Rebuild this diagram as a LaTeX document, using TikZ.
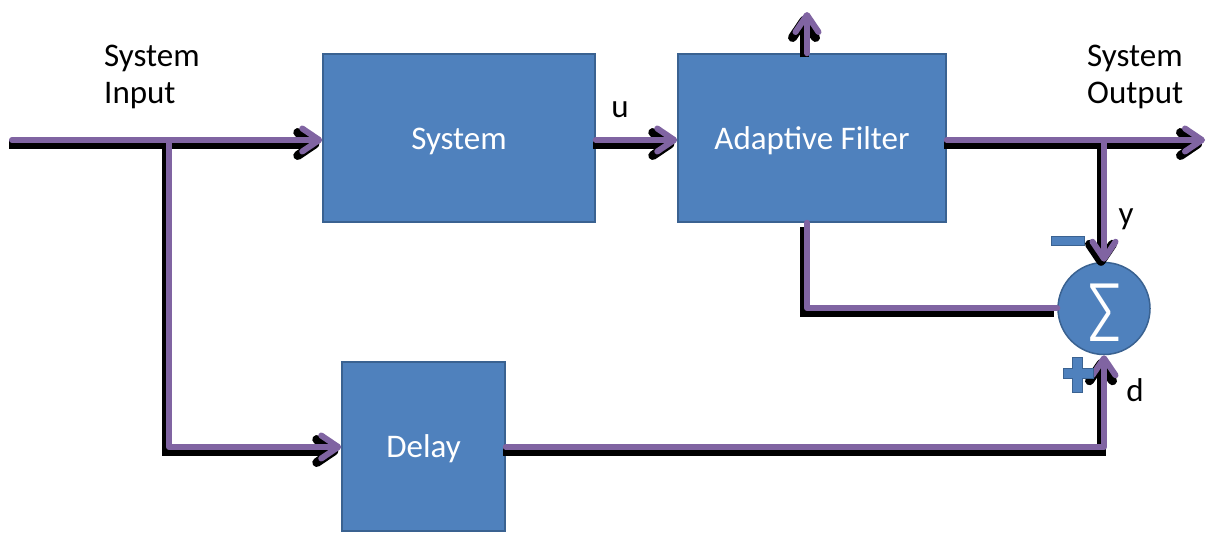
\documentclass[tikz,border=0pt]{standalone}
\usepackage{fontspec}
\setmainfont{Carlito}
\newfontfamily\sigmafont{Fira Sans Light}
\usetikzlibrary{arrows.meta}
\definecolor{boxblue}{HTML}{4F81BD}
\definecolor{boxedge}{HTML}{3A6291}
\definecolor{wire}{HTML}{8064A2}
\begin{document}
\begin{tikzpicture}[x=1pt,y=-1pt,
  blk/.style={draw=boxedge,line width=1.5pt,fill=boxblue,text=white,inner sep=0pt,
    text height=24pt,text depth=2pt,font=\fontsize{33}{40}\selectfont},
  sig/.style={draw=wire,line width=6pt,line cap=round,line join=round,
    preaction={draw=black,line width=9pt,transform canvas={shift={(-3pt,-4pt)}}}},
  arr/.style={-{Straight Barb[length=17pt,width=23pt,round]}},
  lbl/.style={font=\fontsize{33}{37}\selectfont,inner sep=0pt}]
\useasboundingbox (0,0) rectangle (1212,533);
\node[blk,minimum width=272pt,minimum height=168pt] (sys) at (459,138) {System};
\node[blk,minimum width=268pt,minimum height=168pt] (af) at (812,138) {Adaptive Filter};
\node[blk,minimum width=163pt,minimum height=169pt] (del) at (423.5,446.5) {Delay};
\node[draw=boxedge,line width=1.5pt,fill=boxblue,circle,inner sep=0pt,minimum size=92pt] (sum) at (1104,308.5) {};
\node[text=white,inner sep=0pt,font=\sigmafont\fontsize{70}{70}\selectfont] (sigma) at (1104.5,313) {\scalebox{1}[1.2]{Σ}};
% coordinates
\coordinate (in) at (12,140);
\coordinate (b1) at (169,140);
\coordinate (b1d) at (169,447);
\coordinate (top) at (807,12);
\coordinate (out) at (1205,140);
\coordinate (b2) at (1104,140);
\coordinate (fb) at (807,308);
\coordinate (dl) at (1104,447);
% connectors
\draw[sig,arr] (in) -- (sys.west |- in);
\draw[sig,arr] (b1) -- (b1d) -- (del.west |- b1d);
\draw[sig,arr] (sys.east |- in) -- (af.west |- in);
\draw[sig,arr] (af.north -| top) -- (top);
\draw[sig,arr] (af.east |- out) -- (out);
\draw[sig,arr] (b2) -- (sum.north);
\draw[sig] (af.south -| fb) -- (fb) -- (sum.west |- fb);
\draw[sig,arr] (del.east |- dl) -- (dl) -- (sum.south);
% labels
\node[lbl,align=left,anchor=north west] (lin) at (104,45) {System\\Input};
\node[lbl,align=left,anchor=north west] (lout) at (1087,45) {System\\Output};
\node[lbl] (lu) at (620,110) {u};
\node[lbl] (ly) at (1126,219) {y};
\node[lbl] (ld) at (1135,390) {d};
% minus and plus signs
\fill[boxblue,draw=boxedge,line width=0.8pt] (1051,236) rectangle (1084,245);
\fill[boxblue,draw=boxedge,line width=0.8pt]
  (1072,357) -- (1082,357) -- (1082,368) -- (1093,368) -- (1093,378) -- (1082,378)
  -- (1082,392) -- (1072,392) -- (1072,378) -- (1063,378) -- (1063,368) -- (1072,368) -- cycle;
\end{tikzpicture}
\end{document}
